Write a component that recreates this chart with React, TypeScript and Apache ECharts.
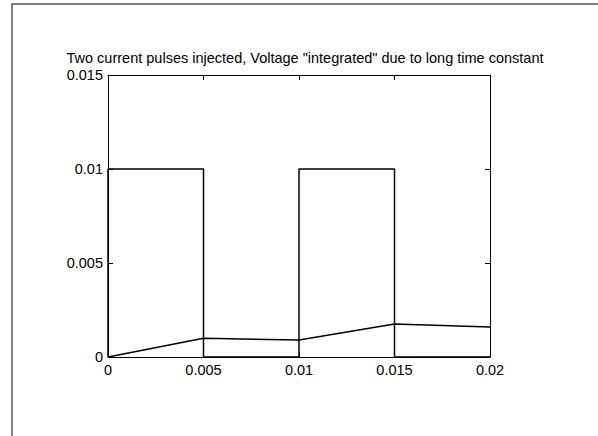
import React, { useEffect, useRef } from "react";
import * as echarts from "echarts";

const titleText = 'Two current pulses injected, Voltage "integrated" due to long time constant';
const pulseTimes = [0, 0, 0.005, 0.005, 0.01, 0.01, 0.015, 0.015, 0.02];
const pulseValues = [0, 0.01, 0.01, 0, 0, 0.01, 0.01, 0, 0];
const voltageTimes = [0, 0.005, 0.01, 0.015, 0.02];
const voltageValues = [0, 0.001, 0.0009, 0.00175, 0.0016];

const FONT = "Liberation Sans";

export default function App() {
  const ref = useRef<HTMLDivElement>(null);
  useEffect(() => {
    if (!ref.current) return;
    const chart = echarts.init(ref.current, undefined, { renderer: "svg" });
    const axisCommon = {
      type: "value",
      min: 0,
      axisLine: { show: true, onZero: false, lineStyle: { color: "#000", width: 1 } },
      axisTick: { show: true, inside: true, length: 5, lineStyle: { color: "#000" } },
      splitLine: { show: false },
    };
    const labelStyle = { color: "#000", fontFamily: FONT, fontSize: 14.5 };
    chart.setOption({
      animation: false,
      backgroundColor: "#fff",
      title: {
        text: titleText,
        left: 300,
        textAlign: "center",
        top: 45,
        textStyle: { fontFamily: FONT, fontSize: 14.5, fontWeight: "normal", color: "#000" },
      },
      graphic: [
        {
          type: "rect",
          shape: { x: 12, y: 4, width: 700, height: 600 },
          style: { fill: "none", stroke: "#555", lineWidth: 1.5 },
          silent: true,
        },
      ],
      grid: { left: 108, top: 75, width: 382, height: 282, containLabel: false },
      xAxis: [
        {
          ...axisCommon,
          max: 0.02,
          interval: 0.005,
          position: "bottom",
          axisLabel: { ...labelStyle, margin: 5 },
        },
        {
          ...axisCommon,
          max: 0.02,
          interval: 0.005,
          position: "top",
          axisLabel: { show: false },
        },
      ],
      yAxis: [
        {
          ...axisCommon,
          max: 0.015,
          interval: 0.005,
          position: "left",
          axisLabel: { ...labelStyle, margin: 5 },
        },
        {
          ...axisCommon,
          max: 0.015,
          interval: 0.005,
          position: "right",
          axisLabel: { show: false },
        },
      ],
      series: [
        {
          type: "line",
          data: pulseTimes.map((t, i) => [t, pulseValues[i]]),
          showSymbol: false,
          lineStyle: { color: "#000", width: 1.5 },
          xAxisIndex: 0,
          yAxisIndex: 0,
        },
        {
          type: "line",
          data: voltageTimes.map((t, i) => [t, voltageValues[i]]),
          showSymbol: false,
          lineStyle: { color: "#000", width: 1.5 },
          xAxisIndex: 0,
          yAxisIndex: 0,
        },
      ],
    });
    return () => chart.dispose();
  }, []);
  return (
    <div
      ref={ref}
      style={{ position: "absolute", left: 0, top: 0, width: 598, height: 436 }}
    />
  );
}
